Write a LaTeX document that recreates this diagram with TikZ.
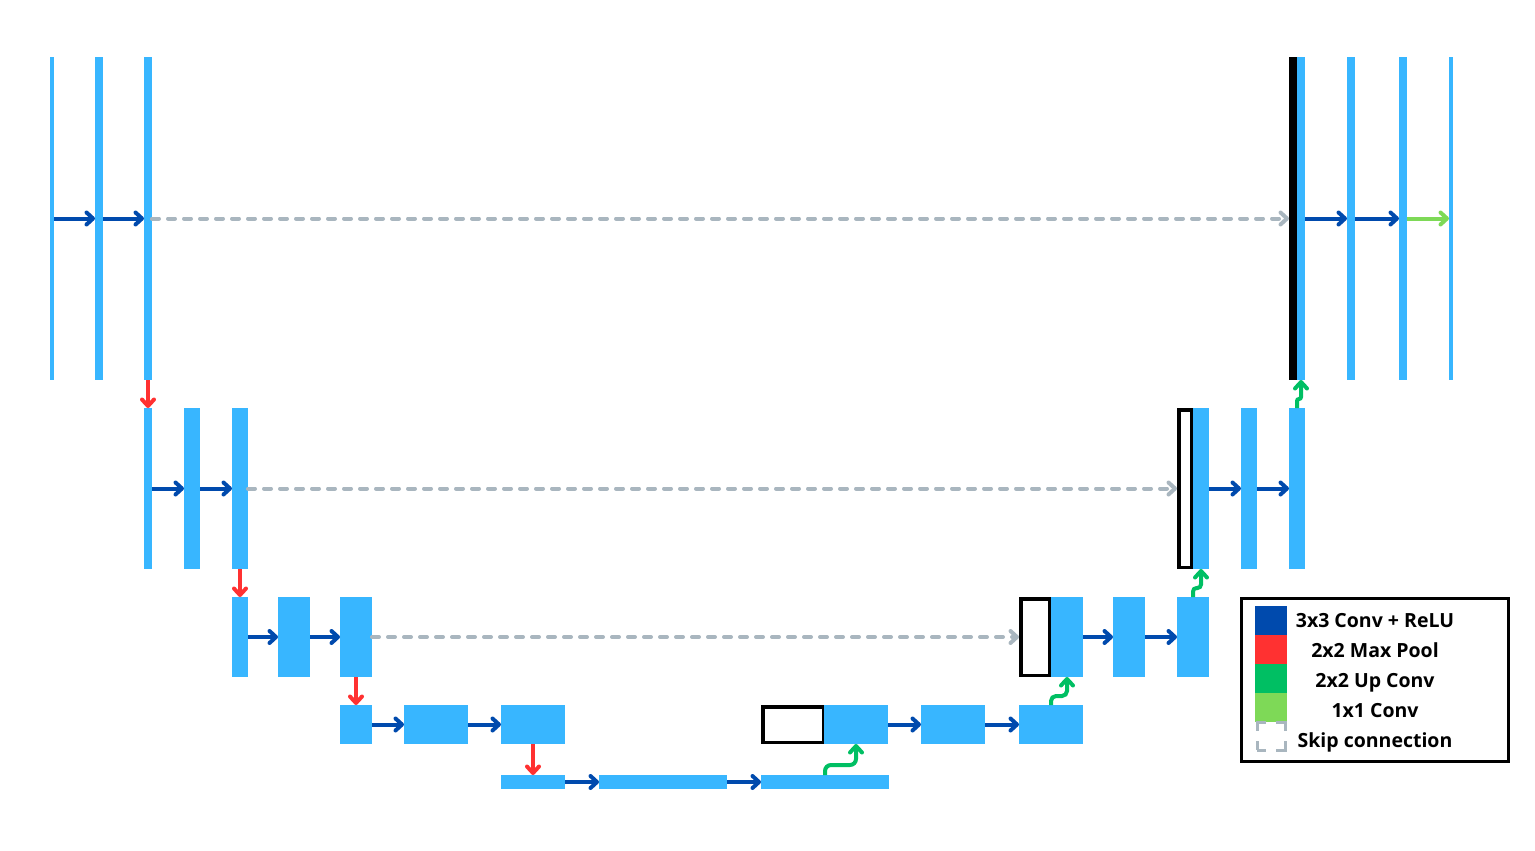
\documentclass[tikz,border=0pt]{standalone}
\usepackage{fontspec}
\setmainfont{Open Sans}
\usetikzlibrary{arrows.meta}
\definecolor{mapblue}{HTML}{38B6FF}
\definecolor{convblue}{HTML}{004AAD}
\definecolor{poolred}{HTML}{FF3131}
\definecolor{upgreen}{HTML}{00BF63}
\definecolor{outgreen}{HTML}{7ED957}
\definecolor{skipgrey}{HTML}{A9B6BF}
\begin{document}
\begin{tikzpicture}[x=1pt, y=-1pt, >={Straight Barb[length=6.5pt,width=12pt,round]}]
    \tikzstyle{fmap} = [rectangle, fill=mapblue, inner sep=0, outer sep=0]
    \tikzstyle{cropbox} = [rectangle, draw=black, line width=3.5pt, inner sep=0, outer sep=1.75pt]
    \tikzstyle{convarrow} = [->, draw=convblue, line width=4pt]
    \tikzstyle{poolarrow} = [->, draw=poolred, line width=4pt]
    \tikzstyle{uparrow} = [->, draw=upgreen, line width=4pt]
    \tikzstyle{outarrow} = [->, draw=outgreen, line width=4pt]
    \tikzstyle{skipline} = [->, draw=skipgrey, line width=4pt, dash pattern=on 7pt off 9pt, line cap=round]
    \tikzstyle{swatch} = [rectangle, inner sep=0, outer sep=0, minimum width=32, minimum height=29]
    \tikzstyle{legtext} = [font=\fontsize{19.5}{22}\selectfont\bfseries, inner sep=0, text height=14pt, text depth=0pt]

    \useasboundingbox (0,0) rectangle (1535,851);

    % Encoder
    \node [fmap, minimum width=4, minimum height=323] (enc1a) at (52,218.5) {};
    \node [fmap, minimum width=8, minimum height=323] (enc1b) at (99,218.5) {};
    \node [fmap, minimum width=8, minimum height=323] (enc1c) at (148,218.5) {};

    \node [fmap, minimum width=8, minimum height=161] (enc2a) at (148,488.5) {};
    \node [fmap, minimum width=16, minimum height=161] (enc2b) at (192,488.5) {};
    \node [fmap, minimum width=16, minimum height=161] (enc2c) at (240,488.5) {};

    \node [fmap, minimum width=16, minimum height=80] (enc3a) at (240,637) {};
    \node [fmap, minimum width=32, minimum height=80] (enc3b) at (294,637) {};
    \node [fmap, minimum width=32, minimum height=80] (enc3c) at (356,637) {};

    \node [fmap, minimum width=32, minimum height=39] (enc4a) at (356,724.5) {};
    \node [fmap, minimum width=64, minimum height=39] (enc4b) at (436,724.5) {};
    \node [fmap, minimum width=64, minimum height=39] (enc4c) at (533,724.5) {};

    \node [fmap, minimum width=64, minimum height=14] (enc5a) at (533,782) {};
    \node [fmap, minimum width=128, minimum height=14] (enc5b) at (663,782) {};
    \node [fmap, minimum width=128, minimum height=14] (enc5c) at (825,782) {};

    % Decoder
    \node [cropbox, minimum width=60.5, minimum height=35.5] (crop4) at (793,724.5) {};
    \node [fmap, minimum width=64, minimum height=39] (dec4up) at (856,724.5) {};
    \node [fmap, minimum width=64, minimum height=39] (dec4b) at (953,724.5) {};
    \node [fmap, minimum width=64, minimum height=39] (dec4c) at (1051,724.5) {};

    \node [cropbox, minimum width=28.5, minimum height=76.5] (crop3) at (1035,637) {};
    \node [fmap, minimum width=32, minimum height=80] (dec3up) at (1067,637) {};
    \node [fmap, minimum width=32, minimum height=80] (dec3b) at (1129,637) {};
    \node [fmap, minimum width=32, minimum height=80] (dec3c) at (1193,637) {};

    \node [cropbox, minimum width=12.5, minimum height=157.5] (crop2) at (1185,488.5) {};
    \node [fmap, minimum width=16, minimum height=161] (dec2up) at (1201,488.5) {};
    \node [fmap, minimum width=16, minimum height=161] (dec2b) at (1249,488.5) {};
    \node [fmap, minimum width=16, minimum height=161] (dec2c) at (1297,488.5) {};

    \node [fmap, fill=black, minimum width=8, minimum height=323] (crop1) at (1293,218.5) {};
    \node [fmap, minimum width=8, minimum height=323] (dec1up) at (1301,218.5) {};
    \node [fmap, minimum width=8, minimum height=323] (dec1b) at (1351,218.5) {};
    \node [fmap, minimum width=8, minimum height=323] (dec1c) at (1403,218.5) {};
    \node [fmap, minimum width=4, minimum height=323] (output) at (1451,218.5) {};

    % Convolutions
    \draw [convarrow] (enc1a) -- (enc1b);
    \draw [convarrow] (enc1b) -- (enc1c);
    \draw [convarrow] (enc2a) -- (enc2b);
    \draw [convarrow] (enc2b) -- (enc2c);
    \draw [convarrow] (enc3a) -- (enc3b);
    \draw [convarrow] (enc3b) -- (enc3c);
    \draw [convarrow] (enc4a) -- (enc4b);
    \draw [convarrow] (enc4b) -- (enc4c);
    \draw [convarrow] (enc5a) -- (enc5b);
    \draw [convarrow] (enc5b) -- (enc5c);

    \draw [convarrow] (dec4up) -- (dec4b);
    \draw [convarrow] (dec4b) -- (dec4c);
    \draw [convarrow] (dec3up) -- (dec3b);
    \draw [convarrow] (dec3b) -- (dec3c);
    \draw [convarrow] (dec2up) -- (dec2b);
    \draw [convarrow] (dec2b) -- (dec2c);
    \draw [convarrow] (dec1up) -- (dec1b);
    \draw [convarrow] (dec1b) -- (dec1c);
    \draw [outarrow] (dec1c) -- (output);

    % Pooling
    \draw [poolarrow] (enc1c) -- (enc2a);
    \draw [poolarrow] (enc2c) -- (enc3a);
    \draw [poolarrow] (enc3c) -- (enc4a);
    \draw [poolarrow] (enc4c) -- (enc5a);

    % Up convolutions
    \draw [uparrow, rounded corners=6] (enc5c.north) -- ++(0,-10) -| (dec4up.south);
    \draw [uparrow, rounded corners=5] (dec4c.north) -- ++(0,-9) -| (dec3up.south);
    \draw [uparrow, rounded corners=3.5] (dec3c.north) -- ++(0,-9) -| (dec2up.south);
    \draw [uparrow, rounded corners=2] (dec2c.north) -- ++(0,-9) -| (dec1up.south);

    % Skip connections
    \draw [skipline] (enc1c) -- (crop1);
    \draw [skipline] (enc2c) -- (crop2);
    \draw [skipline] (enc3c) -- (crop3);

    % Legend
    \node [draw, line width=3pt, inner sep=0, minimum width=267, minimum height=163] (legend) at (1375,680) {};
    \node [swatch, fill=convblue] (keyconv) at (1271,620) {};
    \node [swatch, fill=poolred] (keypool) at (1271,649) {};
    \node [swatch, fill=upgreen] (keyup) at (1271,678) {};
    \node [swatch, fill=outgreen] (keyout) at (1271,707) {};
    \node [swatch, draw=skipgrey, line width=3pt, minimum width=28, minimum height=28, dash pattern=on 18pt off 10pt, dash phase=9pt] (keyskip) at (1271,736) {};
    \node [legtext] (txtconv) at (1375,620) {3x3 Conv + ReLU};
    \node [legtext] (txtpool) at (1375,650) {2x2 Max Pool};
    \node [legtext] (txtup) at (1375,680) {2x2 Up Conv};
    \node [legtext] (txtout) at (1375,710) {1x1 Conv};
    \node [legtext] (txtskip) at (1375,740) {Skip connection};
\end{tikzpicture}
\end{document}
